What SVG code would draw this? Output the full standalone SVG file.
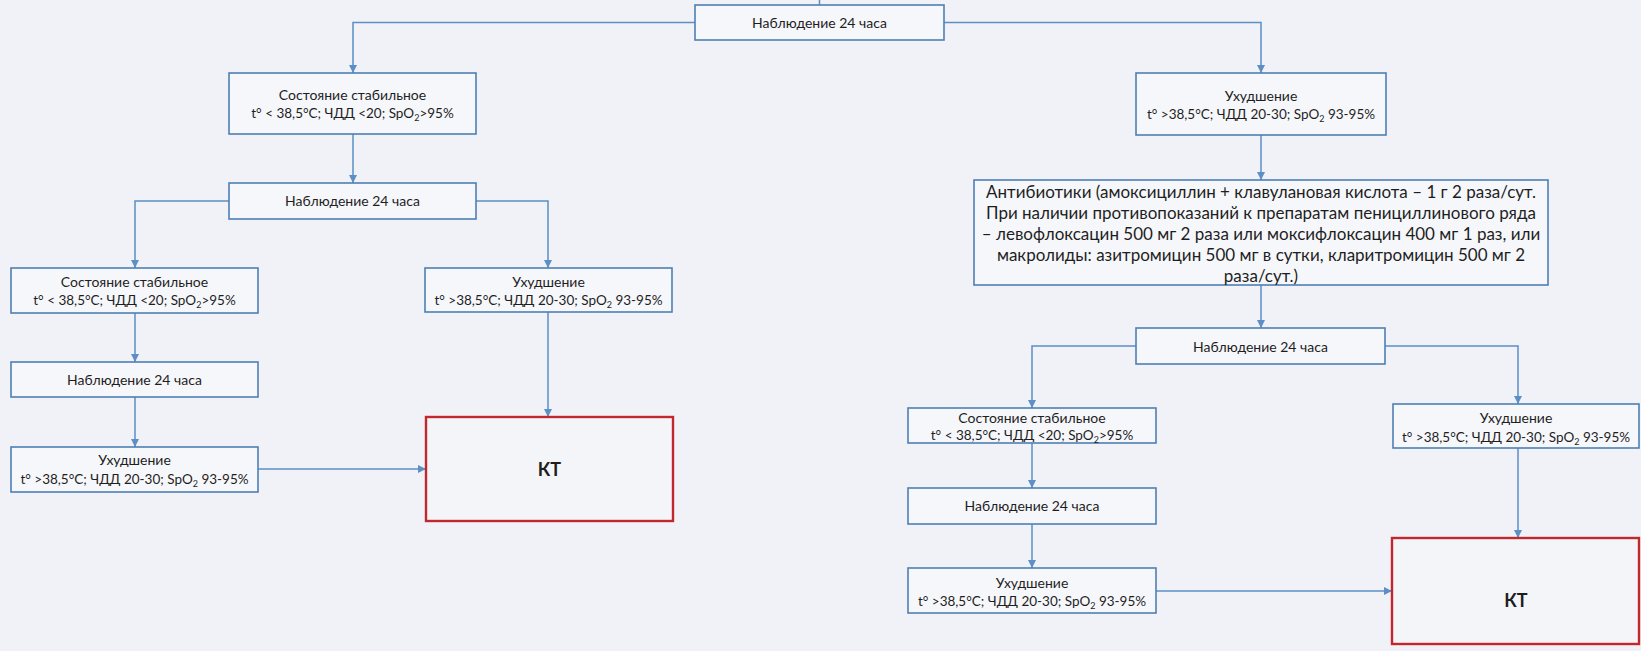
<svg xmlns="http://www.w3.org/2000/svg" width="1641" height="651" viewBox="0 0 1641 651">
<style>
.bg{fill:#f1f2f7}
.box rect{fill:#f6f7fb;stroke:#4f7fb3;stroke-width:1.6}
.kt rect{fill:#f4f5f9;stroke:#c0282d;stroke-width:2.4}
text{font-family:Lato,"Liberation Sans",sans-serif;font-size:14px;fill:#1e1e1e;text-anchor:middle}
.l2{font-size:13.5px}
.big{font-size:17px}
.ktt{font-size:18px;font-weight:bold}
.conn path{fill:none;stroke:#5b8fc6;stroke-width:1.5}
</style>
<defs>
<marker id="ah" markerUnits="userSpaceOnUse" markerWidth="10" markerHeight="10" refX="8" refY="4" orient="auto">
<path d="M0,0 L8,4 L0,8 z" fill="#5b8fc6"/>
</marker>
</defs>
<rect class="bg" x="0" y="0" width="1641" height="651"/>

<g class="conn" id="connectors">
<path d="M819.5,0 V5"/>
<path d="M695,22.5 H353 V73" marker-end="url(#ah)"/>
<path d="M944,22.5 H1261 V73" marker-end="url(#ah)"/>
<path d="M353,134 V183" marker-end="url(#ah)"/>
<path d="M229,201 H135 V268" marker-end="url(#ah)"/>
<path d="M476,201 H548 V268" marker-end="url(#ah)"/>
<path d="M135,313 V362" marker-end="url(#ah)"/>
<path d="M135,397 V447" marker-end="url(#ah)"/>
<path d="M258,469 H426" marker-end="url(#ah)"/>
<path d="M548,312 V417" marker-end="url(#ah)"/>
<path d="M1261,135 V180" marker-end="url(#ah)"/>
<path d="M1261,285 V328" marker-end="url(#ah)"/>
<path d="M1136,346 H1032 V408" marker-end="url(#ah)"/>
<path d="M1385,346 H1518 V404" marker-end="url(#ah)"/>
<path d="M1032,443 V488" marker-end="url(#ah)"/>
<path d="M1032,524 V568" marker-end="url(#ah)"/>
<path d="M1156,591 H1392" marker-end="url(#ah)"/>
<path d="M1518,448 V538" marker-end="url(#ah)"/>
</g>

<g class="box" id="n_top">
<rect x="695" y="5" width="249" height="35"/>
<text x="819.5" y="27.5">Наблюдение 24 часа</text>
</g>

<g class="box" id="n_a1">
<rect x="229" y="73" width="247" height="61"/>
<text x="352.5" y="100">Состояние стабильное</text>
<text class="l2" x="352.5" y="118">t° &lt; 38,5°C; ЧДД &lt;20; SpO<tspan font-size="9" dy="3">2</tspan><tspan dy="-3">&gt;95%</tspan></text>
</g>

<g class="box" id="n_a2">
<rect x="229" y="183" width="247" height="36"/>
<text x="352.5" y="206">Наблюдение 24 часа</text>
</g>

<g class="box" id="n_a3">
<rect x="11" y="268" width="247" height="45"/>
<text x="134.5" y="287">Состояние стабильное</text>
<text class="l2" x="134.5" y="305">t° &lt; 38,5°C; ЧДД &lt;20; SpO<tspan font-size="9" dy="3">2</tspan><tspan dy="-3">&gt;95%</tspan></text>
</g>

<g class="box" id="n_a4">
<rect x="425" y="268" width="247" height="44"/>
<text x="548.5" y="287">Ухудшение</text>
<text class="l2" x="548.5" y="305">t° &gt;38,5°C; ЧДД 20-30; SpO<tspan font-size="9" dy="3">2</tspan><tspan dy="-3"> 93-95%</tspan></text>
</g>

<g class="box" id="n_a5">
<rect x="11" y="362" width="247" height="35"/>
<text x="134.5" y="385">Наблюдение 24 часа</text>
</g>

<g class="box" id="n_a6">
<rect x="11" y="447" width="247" height="45"/>
<text x="134.5" y="465">Ухудшение</text>
<text class="l2" x="134.5" y="484">t° &gt;38,5°C; ЧДД 20-30; SpO<tspan font-size="9" dy="3">2</tspan><tspan dy="-3"> 93-95%</tspan></text>
</g>

<g class="kt" id="n_kt1">
<rect x="426" y="417" width="247" height="104"/>
<text class="ktt" x="549.5" y="476">КТ</text>
</g>

<g class="box" id="n_b1">
<rect x="1136" y="73" width="250" height="62"/>
<text x="1261" y="101">Ухудшение</text>
<text class="l2" x="1261" y="119">t° &gt;38,5°C; ЧДД 20-30; SpO<tspan font-size="9" dy="3">2</tspan><tspan dy="-3"> 93-95%</tspan></text>
</g>

<g class="box" id="n_b2">
<rect x="974" y="180" width="574" height="105"/>
<text class="big" x="1261" y="198">Антибиотики (амоксициллин + клавулановая кислота – 1 г 2 раза/сут.</text>
<text class="big" x="1261" y="219">При наличии противопоказаний к препаратам пенициллинового ряда</text>
<text class="big" x="1261" y="240">– левофлоксацин 500 мг 2 раза или моксифлоксацин 400 мг 1 раз, или</text>
<text class="big" x="1261" y="261">макролиды: азитромицин 500 мг в сутки, кларитромицин 500 мг 2</text>
<text class="big" x="1261" y="282">раза/сут.)</text>
</g>

<g class="box" id="n_b3">
<rect x="1136" y="328" width="249" height="36"/>
<text x="1260.5" y="352">Наблюдение 24 часа</text>
</g>

<g class="box" id="n_b4">
<rect x="908" y="408" width="248" height="35"/>
<text x="1032" y="423">Состояние стабильное</text>
<text class="l2" x="1032" y="440">t° &lt; 38,5°C; ЧДД &lt;20; SpO<tspan font-size="9" dy="3">2</tspan><tspan dy="-3">&gt;95%</tspan></text>
</g>

<g class="box" id="n_b5">
<rect x="908" y="488" width="248" height="36"/>
<text x="1032" y="511">Наблюдение 24 часа</text>
</g>

<g class="box" id="n_b6">
<rect x="908" y="568" width="248" height="45"/>
<text x="1032" y="588">Ухудшение</text>
<text class="l2" x="1032" y="606">t° &gt;38,5°C; ЧДД 20-30; SpO<tspan font-size="9" dy="3">2</tspan><tspan dy="-3"> 93-95%</tspan></text>
</g>

<g class="box" id="n_b7">
<rect x="1393" y="404" width="246" height="44"/>
<text x="1516" y="423">Ухудшение</text>
<text class="l2" x="1516" y="442">t° &gt;38,5°C; ЧДД 20-30; SpO<tspan font-size="9" dy="3">2</tspan><tspan dy="-3"> 93-95%</tspan></text>
</g>

<g class="kt" id="n_kt2">
<rect x="1392" y="538" width="247" height="106"/>
<text class="ktt" x="1516" y="607">КТ</text>
</g>
</svg>
